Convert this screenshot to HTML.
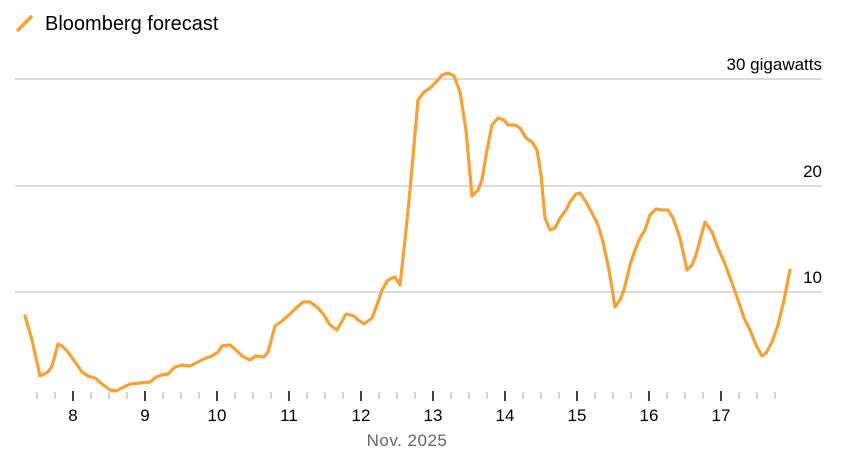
<!DOCTYPE html>
<html><head><meta charset="utf-8"><style>
html,body{margin:0;padding:0;background:#fff;}
svg{display:block;font-family:"Liberation Sans",Arial,sans-serif;}
</style></head><body>
<svg width="843" height="470" viewBox="0 0 843 470" xmlns="http://www.w3.org/2000/svg">
<line x1="17" y1="31" x2="32" y2="16" stroke="#f7a033" stroke-width="3.5" stroke-linecap="butt"/>
<text x="45" y="30" font-size="20" fill="#000">Bloomberg forecast</text>
<g stroke="#cfcfcf" stroke-width="1.5">
<line x1="15" y1="79" x2="822" y2="79"/>
<line x1="15" y1="186" x2="822" y2="186"/>
<line x1="15" y1="292" x2="822" y2="292"/>
</g>
<g font-size="17" fill="#000" text-anchor="end">
<text x="822" y="70">30 gigawatts</text>
<text x="822" y="177">20</text>
<text x="822" y="283">10</text>
</g>
<g stroke="#c8c8c8" stroke-width="1.5">
<line x1="37" y1="392" x2="37" y2="399"/><line x1="55" y1="392" x2="55" y2="399"/>
<line x1="91" y1="392" x2="91" y2="399"/><line x1="109" y1="392" x2="109" y2="399"/><line x1="127" y1="392" x2="127" y2="399"/>
<line x1="163" y1="392" x2="163" y2="399"/><line x1="181" y1="392" x2="181" y2="399"/><line x1="199" y1="392" x2="199" y2="399"/>
<line x1="235" y1="392" x2="235" y2="399"/><line x1="253" y1="392" x2="253" y2="399"/><line x1="271" y1="392" x2="271" y2="399"/>
<line x1="307" y1="392" x2="307" y2="399"/><line x1="325" y1="392" x2="325" y2="399"/><line x1="343" y1="392" x2="343" y2="399"/>
<line x1="379" y1="392" x2="379" y2="399"/><line x1="397" y1="392" x2="397" y2="399"/><line x1="415" y1="392" x2="415" y2="399"/>
<line x1="451" y1="392" x2="451" y2="399"/><line x1="469" y1="392" x2="469" y2="399"/><line x1="487" y1="392" x2="487" y2="399"/>
<line x1="523" y1="392" x2="523" y2="399"/><line x1="541" y1="392" x2="541" y2="399"/><line x1="559" y1="392" x2="559" y2="399"/>
<line x1="595" y1="392" x2="595" y2="399"/><line x1="613" y1="392" x2="613" y2="399"/><line x1="631" y1="392" x2="631" y2="399"/>
<line x1="667" y1="392" x2="667" y2="399"/><line x1="685" y1="392" x2="685" y2="399"/><line x1="703" y1="392" x2="703" y2="399"/>
<line x1="739" y1="392" x2="739" y2="399"/><line x1="757" y1="392" x2="757" y2="399"/><line x1="775" y1="392" x2="775" y2="399"/>
</g>
<g stroke="#000" stroke-width="1.5">
<line x1="73" y1="391" x2="73" y2="401"/><line x1="145" y1="391" x2="145" y2="401"/><line x1="217" y1="391" x2="217" y2="401"/>
<line x1="289" y1="391" x2="289" y2="401"/><line x1="361" y1="391" x2="361" y2="401"/><line x1="433" y1="391" x2="433" y2="401"/>
<line x1="505" y1="391" x2="505" y2="401"/><line x1="577" y1="391" x2="577" y2="401"/><line x1="649" y1="391" x2="649" y2="401"/>
<line x1="721" y1="391" x2="721" y2="401"/>
</g>
<g font-size="17" fill="#000" text-anchor="middle">
<text x="73" y="421">8</text><text x="145" y="421">9</text><text x="217" y="421">10</text><text x="289" y="421">11</text>
<text x="361" y="421">12</text><text x="433" y="421">13</text><text x="505" y="421">14</text><text x="577" y="421">15</text>
<text x="649" y="421">16</text><text x="721" y="421">17</text>
</g>
<text x="407" y="446" font-size="17" fill="#666" text-anchor="middle" letter-spacing="0.5">Nov. 2025</text>
<polyline fill="none" stroke="#f7a033" stroke-width="3.2" stroke-linejoin="round" stroke-linecap="round" points="25,316 32,340 40,376 48,372 52,366 58,344 62,346 68,352 75,362 82,372 88,376 95,378 102,384 110,390 116,391 122,388 130,384 140,383 150,382 156,377 162,375 168,374 175,367 182,365 190,366 198,362 206,358 212,356 218,352 222,346 230,345 236,350 242,356 250,360 256,356 264,357 268,352 275,326 282,321 290,314 296,308 303,302 310,302 318,308 324,315 330,325 337,330 346,314 354,316 358,320 364,324 372,318 377,305 382,290 388,280 395,277 400,285 405,240 410,190 418,100 424,92 430,88 436,82 442,75 448,73 454,76 460,92 466,130 472,196 478,190 482,180 487,150 492,125 498,118 504,120 508,125 515,125 520,128 526,138 532,142 537,150 541,175 545,218 550,230 555,228 560,218 566,210 570,202 576,194 580,193 586,202 592,213 598,225 603,242 609,270 615,307 620,300 624,290 630,265 635,250 640,238 645,230 650,215 656,209 662,210 668,210 673,218 680,238 687,270 692,265 696,255 700,240 705,222 712,232 718,248 725,264 732,283 738,300 744,318 750,330 756,345 762,356 766,353 772,342 778,325 784,300 790,270"/>
</svg>
</body></html>
